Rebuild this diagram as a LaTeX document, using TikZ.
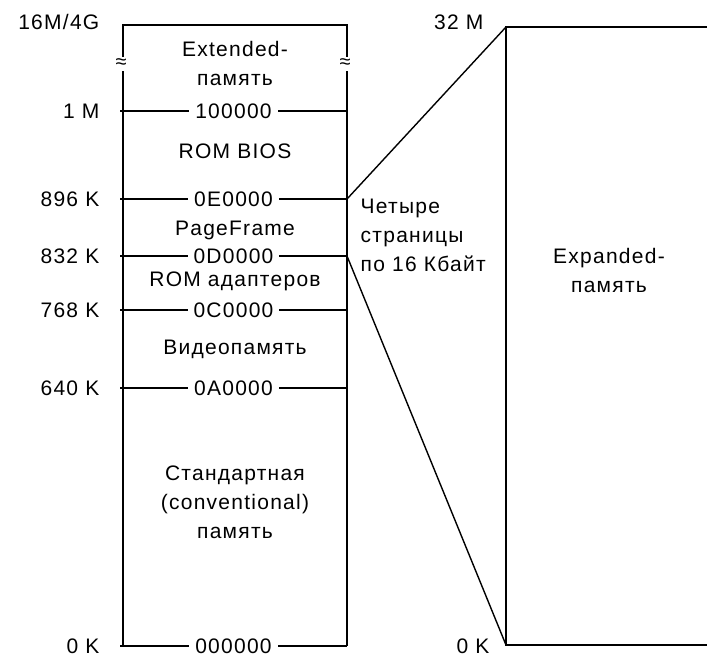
\documentclass[tikz,border=0pt]{standalone}
\usepackage{fontspec}
\setmainfont{Liberation Sans}[LetterSpace=6]
\begin{document}
\begin{tikzpicture}[x=1pt,y=-1pt,line width=1.4pt,
    txt/.style={font=\fontsize{21}{29}\selectfont,inner sep=0pt},
    num/.style={txt,text height=15pt,text depth=0pt},
    addr/.style={num,fill=white,inner xsep=6pt},
    lvl/.style={num,anchor=east},
    brk/.style={font=\fontsize{20}{20}\selectfont,inner sep=0pt}]
  \useasboundingbox (0,0) rectangle (707,657);

  % conventional / upper memory column
  \coordinate (tl) at (123,25);
  \coordinate (tr) at (347,25);
  \coordinate (bl) at (123,646);
  \coordinate (br) at (347,646);
  \coordinate (tlb) at (123,57);
  \coordinate (tla) at (123,71);
  \coordinate (trb) at (347,57);
  \coordinate (tra) at (347,71);
  \draw (tlb) -- (tl) -- (tr) -- (trb);
  \draw (tla) -- (bl);
  \draw (tra) -- (br);
  \node[brk] (zl) at (121,64) {≈};
  \node[brk] (zr) at (345,64) {≈};

  \coordinate (m1l) at (120,111);  \coordinate (m1r) at (347,111);
  \coordinate (m2l) at (120,199);  \coordinate (m2r) at (347,199);
  \coordinate (m3l) at (120,256);  \coordinate (m3r) at (347,256);
  \coordinate (m4l) at (120,310);  \coordinate (m4r) at (347,310);
  \coordinate (m5l) at (120,388);  \coordinate (m5r) at (347,388);

  \draw (m1l) -- node[addr] (h1) {100000} (m1r);
  \draw (m2l) -- node[addr] (h2) {0E0000} (m2r);
  \draw (m3l) -- node[addr] (h3) {0D0000} (m3r);
  \draw (m4l) -- node[addr] (h4) {0C0000} (m4r);
  \draw (m5l) -- node[addr] (h5) {0A0000} (m5r);
  \draw (120,646) -- node[addr] (h0) {000000} (br);

  \node[lvl] (s6) at (100,22) {16M/4G};
  \node[lvl] (s5) at (100,111) {1 M};
  \node[lvl] (s4) at (100,199) {896 K};
  \node[lvl] (s3) at (100,256) {832 K};
  \node[lvl] (s2) at (100,310) {768 K};
  \node[lvl] (s1) at (100,388) {640 K};
  \node[lvl] (s0) at (100,646) {0 K};

  \node[txt,anchor=base,align=center] (ext) at (235,85) {Extended-\\память};
  \node[txt,anchor=base] (bios) at (235,158) {ROM BIOS};
  \node[txt,anchor=base] (pf) at (235,235) {PageFrame};
  \node[txt,anchor=base] (rom) at (235,286) {ROM адаптеров};
  \node[txt,anchor=base] (vid) at (235,354) {Видеопамять};
  \node[txt,anchor=base,align=center] (std) at (235,538)
    {Стандартная\\(conventional)\\память};

  % expanded memory
  \coordinate (el) at (506,27);
  \coordinate (er) at (707,27);
  \coordinate (fl) at (506,645);
  \coordinate (fr) at (707,645);
  \draw (er) -- (el) -- (fl) -- (fr);
  \draw (m2r) -- (el);
  \draw (m3r) -- (fl);
  \node[num,anchor=east] (e32) at (484,22) {32 M};
  \node[num,anchor=east] (e0) at (490,646) {0 K};
  \node[txt,anchor=base west,align=left] (four) at (360,271)
    {Четыре\\страницы\\по 16 Кбайт};
  \node[txt,anchor=base,align=center] (exp) at (609,292) {Expanded-\\память};
\end{tikzpicture}
\end{document}
